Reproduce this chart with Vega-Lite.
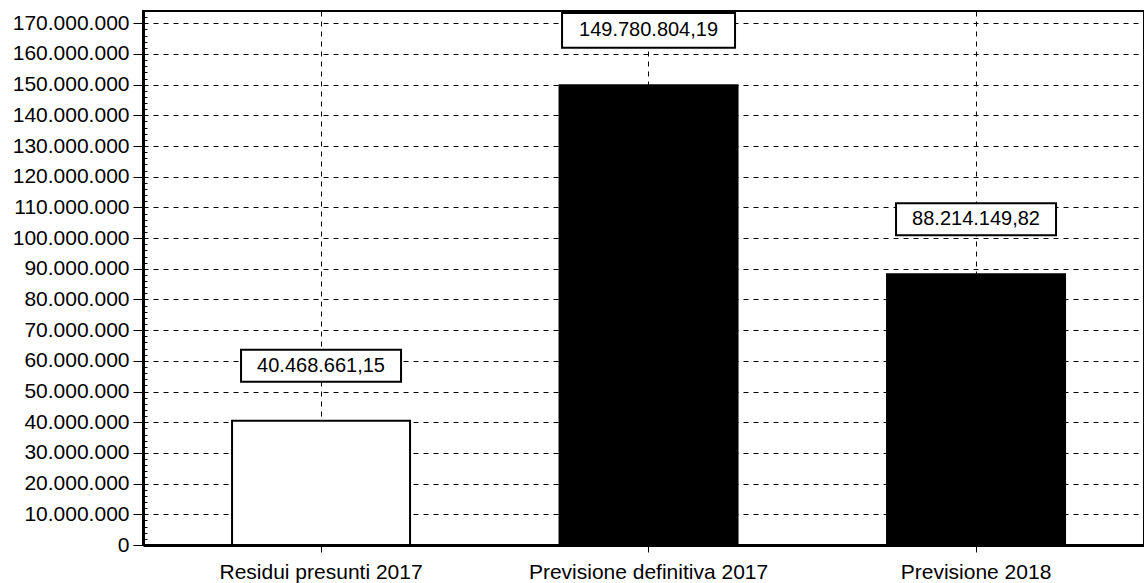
{
  "$schema": "https://vega.github.io/schema/vega-lite/v6.json",
  "autosize": "none",
  "width": 1001,
  "height": 534,
  "padding": {"left": 143, "top": 11, "right": 0, "bottom": 38},
  "background": "white",
  "config": {
    "locale": {"number": {"decimal": ",", "thousands": ".", "grouping": [3], "currency": ["€", ""]}},
    "font": "Liberation Sans",
    "view": {"stroke": "black", "strokeWidth": 2},
    "axis": {
      "labelFont": "Liberation Sans",
      "labelFontSize": 21,
      "labelColor": "black",
      "labelOverlap": false,
      "labelLimit": 0,
      "tickColor": "black",
      "domainColor": "black",
      "gridColor": "black",
      "gridDash": [5, 5],
      "gridOpacity": 1,
      "gridWidth": 1,
      "title": null
    }
  },
  "data": {
    "values": [
      {"voce": "Residui presunti 2017", "valore": 40468661.15, "tipo": "residui"},
      {"voce": "Previsione definitiva 2017", "valore": 149780804.19, "tipo": "previsione"},
      {"voce": "Previsione 2018", "valore": 88214149.82, "tipo": "previsione"}
    ]
  },
  "encoding": {
    "x": {
      "field": "voce",
      "type": "nominal",
      "sort": null,
      "scale": {"paddingInner": 0.4565, "paddingOuter": 0.2565, "align": 0.53},
      "axis": {
        "grid": true,
        "bandPosition": 0.5,
        "labelAngle": 0,
        "tickSize": 7,
        "tickWidth": 1,
        "labelPadding": 9,
        "domainWidth": 3
      }
    },
    "y": {
      "field": "valore",
      "type": "quantitative",
      "scale": {"domain": [0, 174000000], "nice": false},
      "axis": {
        "values": [0, 2000000, 4000000, 6000000, 8000000, 10000000, 12000000, 14000000, 16000000, 18000000, 20000000, 22000000, 24000000, 26000000, 28000000, 30000000, 32000000, 34000000, 36000000, 38000000, 40000000, 42000000, 44000000, 46000000, 48000000, 50000000, 52000000, 54000000, 56000000, 58000000, 60000000, 62000000, 64000000, 66000000, 68000000, 70000000, 72000000, 74000000, 76000000, 78000000, 80000000, 82000000, 84000000, 86000000, 88000000, 90000000, 92000000, 94000000, 96000000, 98000000, 100000000, 102000000, 104000000, 106000000, 108000000, 110000000, 112000000, 114000000, 116000000, 118000000, 120000000, 122000000, 124000000, 126000000, 128000000, 130000000, 132000000, 134000000, 136000000, 138000000, 140000000, 142000000, 144000000, 146000000, 148000000, 150000000, 152000000, 154000000, 156000000, 158000000, 160000000, 162000000, 164000000, 166000000, 168000000, 170000000, 172000000],
        "format": ",d",
        "labelExpr": "datum.value % 10000000 === 0 ? datum.label : ''",
        "grid": true,
        "gridOpacity": {"condition": {"test": "datum.value % 10000000 === 0", "value": 1}, "value": 0},
        "tickSize": {"condition": {"test": "datum.value % 10000000 === 0", "value": 10}, "value": -4},
        "tickWidth": 1,
        "labelPadding": 4,
        "domainWidth": 3
      }
    }
  },
  "layer": [
    {
      "mark": {"type": "bar", "stroke": "black", "strokeWidth": 2},
      "encoding": {
        "fill": {
          "field": "tipo",
          "type": "nominal",
          "scale": {"domain": ["residui", "previsione"], "range": ["white", "black"]},
          "legend": null
        }
      }
    },
    {
      "mark": {
        "type": "point",
        "shape": "M-1,-0.2H1V0.2H-1Z",
        "filled": true,
        "fill": "white",
        "stroke": "black",
        "strokeWidth": 2,
        "opacity": 1,
        "yOffset": -55
      },
      "encoding": {
        "size": {"condition": {"test": "datum.valore > 100000000", "value": 29929}, "value": 25600}
      }
    },
    {
      "mark": {"type": "text", "fontSize": 20, "font": "Liberation Sans", "color": "black", "yOffset": -55, "baseline": "middle", "align": "center"},
      "encoding": {
        "text": {"field": "valore", "type": "quantitative", "format": ",.2f"}
      }
    }
  ]
}
